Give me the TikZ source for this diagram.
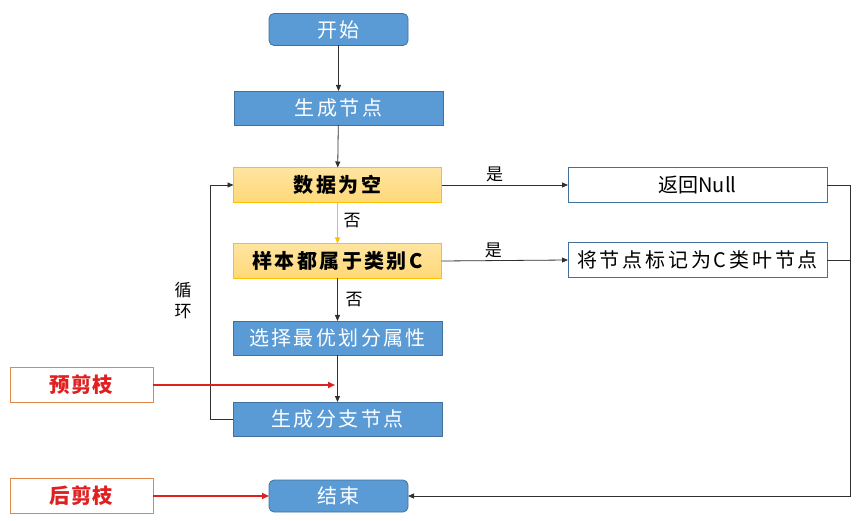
\documentclass[tikz,border=0pt]{standalone}
\usepackage{fontspec}
\setmainfont{Noto Sans CJK SC}
\newfontfamily\cjk{Noto Sans CJK SC}
\newfontfamily\cjksp[LetterSpace=12]{Noto Sans CJK SC}
\newfontfamily\cjkwide[LetterSpace=14]{Noto Sans CJK SC}
\newfontfamily\cjkpr[LetterSpace=6]{Noto Sans CJK SC}
\usetikzlibrary{arrows.meta}
\definecolor{bfill}{HTML}{5B9BD5}
\definecolor{bdraw}{HTML}{41719C}
\definecolor{ofill}{HTML}{FFD978}
\definecolor{odraw}{HTML}{FFC000}
\definecolor{pdraw}{HTML}{E0884A}
\definecolor{pred}{HTML}{E02020}
\definecolor{lgray}{HTML}{303030}
\begin{document}
\begin{tikzpicture}[x=1pt,y=-1pt,
  every node/.style={inner sep=0pt, outer sep=0pt},
  bluebox/.style={draw=bdraw, fill=bfill, line width=0.8pt, text=white, font=\cjksp\fontsize{20}{22}\selectfont, minimum width=209pt, minimum height=34pt},
  blueround/.style={bluebox, rounded corners=5pt, minimum width=139pt, minimum height=32pt},
  orangebox/.style={draw=odraw, line width=0.8pt, top color=ofill!70!white, bottom color=ofill, text=black, font=\cjksp\bfseries\fontsize{20}{22}\selectfont, minimum width=208pt, minimum height=35pt},
  whitebox/.style={draw=bdraw, fill=white, line width=0.8pt, text=black, font=\cjk\fontsize{20}{22}\selectfont, minimum width=259pt, minimum height=35pt},
  prunebox/.style={draw=pdraw, fill=white, line width=0.8pt, text=pred, font=\cjkpr\bfseries\fontsize{20.5}{22}\selectfont, minimum width=143pt, minimum height=35pt},
  conn/.style={draw=lgray, line width=0.8pt, -{Triangle[length=6pt,width=5pt]}},
  yconn/.style={draw=odraw, line width=0.8pt, -{Triangle[length=6pt,width=5pt]}},
  redconn/.style={draw=pred, line width=1.6pt, -{Triangle[length=7pt,width=6pt]}},
  lbl/.style={font=\cjk\fontsize{17}{19}\selectfont, text=black}
]
\useasboundingbox (0,0) rectangle (862,521);
\node[blueround] (start) at (338.5,29.5) {开始};
\node[bluebox] (gen) at (338.5,108) {生成节点};
\node[orangebox] (empty) at (337.5,185) {数据为空};
\node[orangebox] (same) at (337.5,261) {样本都属于类别C};
\node[bluebox] (sel) at (337.5,338) {选择最优划分属性};
\node[bluebox] (branch) at (337.5,419) {生成分支节点};
\node[blueround] (end) at (338.5,496) {结束};
\node[whitebox] (null) at (697.5,185) {返回Null};
\node[whitebox, font=\cjkwide\fontsize{20}{22}\selectfont] (leaf) at (697.5,260) {将节点标记为C类叶节点};
\node[prunebox] (pre) at (81.5,385) {预剪枝};
\node[prunebox] (post) at (81.5,496) {后剪枝};
\coordinate (loopb) at (210,419);
\coordinate (loopt) at (210,185);
\coordinate (rt) at (850,185);
\coordinate (rm) at (850,260);
\coordinate (rb) at (850,496);
\coordinate (prehit) at (335,385);

\draw[conn] (start) -- (gen);
\draw[conn] (gen) -- (empty);
\draw[yconn] (empty) -- (same) node[lbl, pos=0.45, right=6pt] {否};
\draw[conn] (same) -- (sel) node[lbl, pos=0.5, right=8pt] {否};
\draw[conn] (sel) -- (branch);
\draw[conn] (branch.west) -- (loopb) -- (loopt) -- (empty.west);
\draw[conn] (empty.east) -- (null.west) node[lbl, pos=0.42, above=3pt] {是};
\draw[conn] (same.east) -- (leaf.west) node[lbl, pos=0.41, above=3pt] {是};
\draw[conn] (null.east) -- (rt) -- (rb) -- (end.east);
\draw[draw=lgray, line width=0.8pt] (leaf.east) -- (rm);
\draw[redconn] (pre.east) -- (prehit);
\draw[redconn] (post.east) -- (end.west);
\node[lbl, align=center] (loop) at (183,301) {循\\[2pt]环};
\end{tikzpicture}
\end{document}
